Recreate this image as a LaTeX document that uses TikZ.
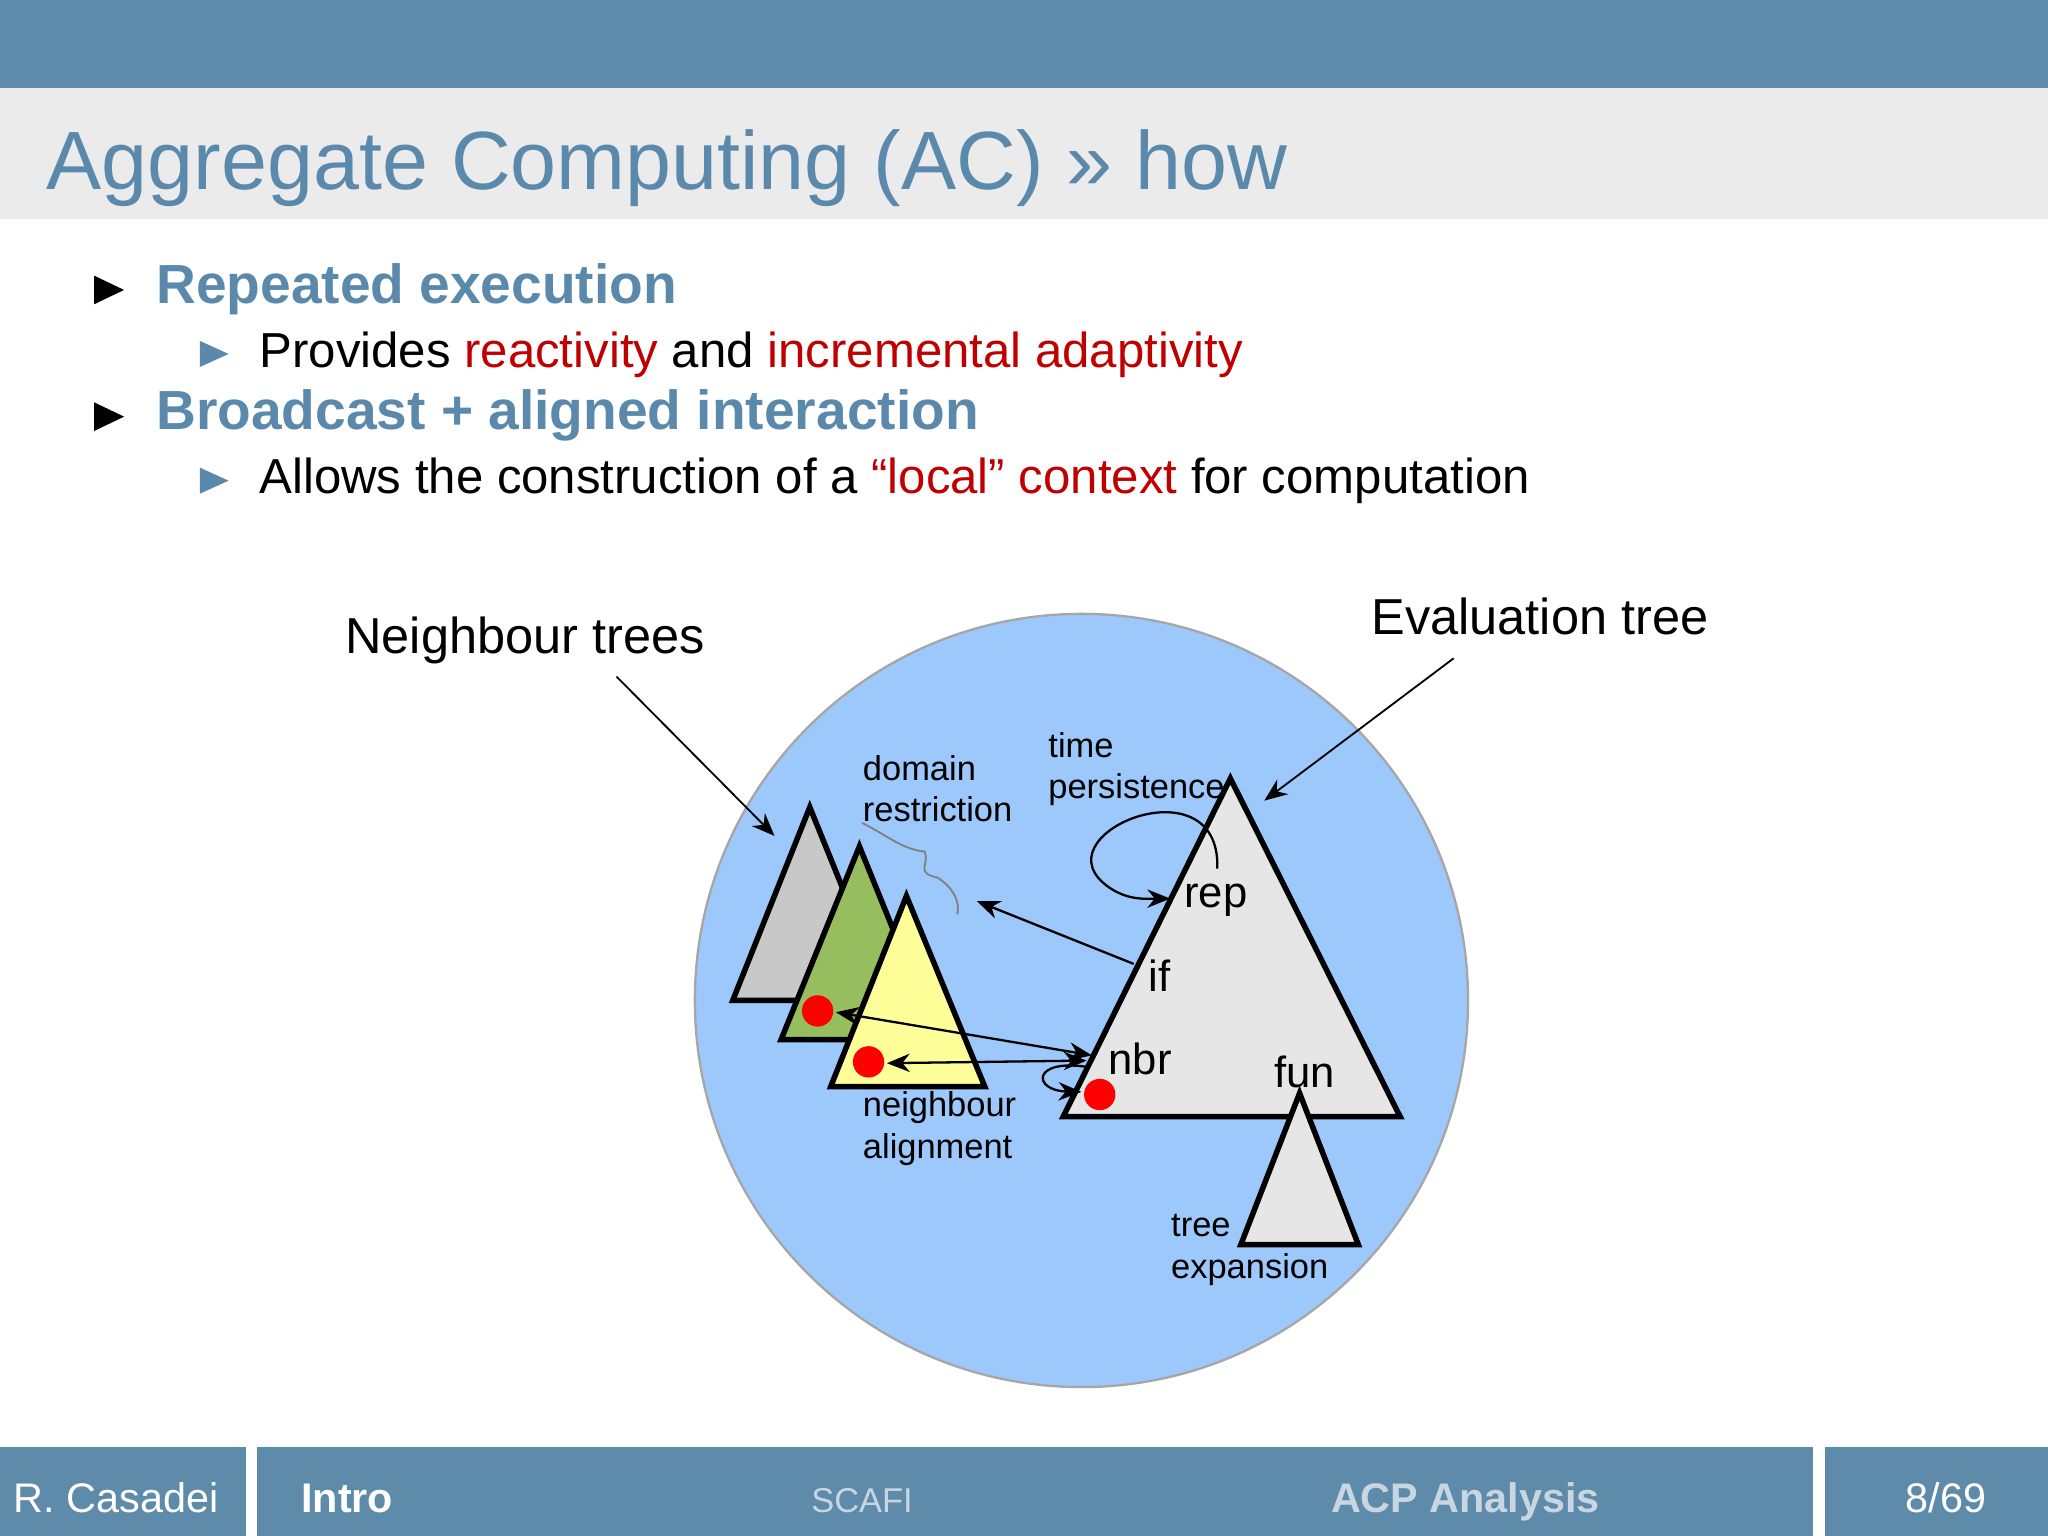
\documentclass[tikz,border=0pt]{standalone}
\usepackage{fontspec}
\setmainfont{Liberation Sans}
\usetikzlibrary{arrows.meta}
\definecolor{barc}{HTML}{5E8BAA}
\definecolor{titc}{HTML}{5B89AC}
\definecolor{titbg}{HTML}{EBEBEB}
\definecolor{circc}{HTML}{9DC8FB}
\definecolor{redc}{HTML}{C00000}
\definecolor{greenc}{HTML}{96BE5F}
\definecolor{yellowc}{HTML}{FFFF99}
\definecolor{grayc}{HTML}{C8C8C8}
\definecolor{evalc}{HTML}{E6E6E6}
\definecolor{footl}{HTML}{C8D6E2}
\tikzset{
  tri/.style={draw=black,line width=1.2pt,line join=miter},
  lbl/.style={font=\fontsize{7.5}{9}\selectfont,align=left,anchor=west,inner sep=0},
  kw/.style={font=\fontsize{9.5}{11}\selectfont,inner sep=0},
  arr/.style={-{Stealth[length=5pt,width=4pt]},line width=0.5pt},
  dot/.style={circle,fill=red,minimum size=0.24cm,inner sep=0},
  btxt/.style={anchor=base west,inner sep=0},
}
\begin{document}
\begin{tikzpicture}[x=0.01cm,y=-0.01cm]
\useasboundingbox (0,0) rectangle (1568,1176);
\fill[white] (0,0) rectangle (1568,1176);
\fill[barc] (0,0) rectangle (1568,67);
\fill[titbg] (0,67) rectangle (1568,168);
\node[btxt,text=titc,font=\fontsize{18}{20}\selectfont] (title) at (35,145) {Aggregate Computing (AC) \guillemotright{} how};
% bullets
\fill[black] (72,211) -- (95,222) -- (72,233) -- cycle;
\node[btxt,text=titc,font=\bfseries\fontsize{12}{14}\selectfont] (t1) at (119,232) {Repeated execution};
\fill[titc] (153,261) -- (175,271) -- (153,281) -- cycle;
\node[btxt,font=\fontsize{10.7}{13}\selectfont] (t2) at (198,281) {Provides \textcolor{redc}{reactivity} and \textcolor{redc}{incremental adaptivity}};
\fill[black] (72,308) -- (95,319) -- (72,330) -- cycle;
\node[btxt,text=titc,font=\bfseries\fontsize{12}{14}\selectfont] (t3) at (119,329) {Broadcast + aligned interaction};
\fill[titc] (153,358) -- (175,368) -- (153,378) -- cycle;
\node[btxt,font=\fontsize{10.7}{13}\selectfont] (t4) at (198,378) {Allows the construction of a \textcolor{redc}{``local'' context} for computation};
% diagram
\fill[circc,draw=gray!70,line width=0.5pt] (828,766) circle (296);
\filldraw[tri,fill=grayc] (561,766) -- (620,618) -- (680,766) -- cycle;
\filldraw[tri,fill=greenc] (598,796) -- (658,648) -- (718,796) -- cycle;
\filldraw[tri,fill=yellowc] (636,832) -- (694,686) -- (754,832) -- cycle;
\filldraw[tri,fill=evalc] (814,855) -- (942,596) -- (1072,855) -- cycle;
\filldraw[tri,fill=evalc] (950,953) -- (995,837) -- (1040,953) -- cycle;
\node[dot] (d1) at (626,774) {};
\node[dot] (d2) at (665,813) {};
\node[dot] (d3) at (842,838) {};
\node[font=\fontsize{11}{13}\selectfont,inner sep=0] (nt) at (402,490) {Neighbour trees};
\node[font=\fontsize{11}{13}\selectfont,inner sep=0] (et) at (1179,472) {Evaluation tree};
\coordinate (ntA) at (472,518); \coordinate (ntB) at (593,640);
\coordinate (etA) at (1113,504); \coordinate (etB) at (968,613);
\draw[arr,line width=0.4pt] (ntA) -- (ntB);
\draw[arr,line width=0.4pt] (etA) -- (etB);
\node[lbl] (dr) at (660,604) {domain\\restriction};
\node[lbl] (tp) at (802,589) {time\\persistence};
\node[lbl] (na) at (660,864) {neighbour\\alignment};
\node[lbl] (te) at (896,957) {tree\\expansion};
\node[kw] (rep) at (931,689) {rep};
\node[kw] (if) at (888,747) {if};
\node[kw] (nbr) at (873,811) {nbr};
\node[kw] (fun) at (999,821) {fun};
\coordinate (ifs) at (868,738); \coordinate (ift) at (748,690);
\draw[arr] (ifs) -- (ift);
\coordinate (nbrA) at (836,808); \coordinate (nbrB) at (640,775);
\draw[{Stealth[length=5pt,width=4pt]}-{Stealth[length=5pt,width=4pt]},line width=0.5pt] (nbrB) -- (nbrA);
\coordinate (nbrC) at (832,812); \coordinate (nbrD) at (679,814);
\draw[{Stealth[length=5pt,width=4pt]}-{Stealth[length=5pt,width=4pt]},line width=0.5pt] (nbrD) -- (nbrC);
\coordinate (rl1) at (932,665); \coordinate (rl2) at (896,688);
\draw[arr] (rl1) .. controls (935,580) and (790,640) .. (850,680) .. controls (865,690) and (880,688) .. (rl2);
\coordinate (nl1) at (833,817); \coordinate (nl2) at (828,836);
\draw[arr] (nl1) .. controls (790,810) and (790,835) .. (nl2);
\draw[gray,line width=0.4pt] (660,630) .. controls (680,640) and (690,650) .. (708,652) .. controls (712,662) and (700,668) .. (718,672) .. controls (730,680) and (735,690) .. (733,700);
% footer
\fill[barc] (0,1108) rectangle (188,1176);
\fill[barc] (197,1108) rectangle (1388,1176);
\fill[barc] (1397,1108) rectangle (1568,1176);
\node[btxt,text=white,font=\fontsize{9}{11}\selectfont] (fa) at (10,1158) {R. Casadei};
\node[btxt,text=white,font=\bfseries\fontsize{9}{11}\selectfont] (fb) at (230,1158) {Intro};
\node[anchor=base,inner sep=0,text=footl,font=\fontsize{7.5}{9}\selectfont] (fc) at (660,1158) {SCAFI};
\node[anchor=base,inner sep=0,text=footl,font=\bfseries\fontsize{9}{11}\selectfont] (fd) at (1122,1158) {ACP Analysis};
\node[anchor=base,inner sep=0,text=white,font=\fontsize{9}{11}\selectfont] (fe) at (1490,1158) {8/69};
\end{tikzpicture}
\end{document}
